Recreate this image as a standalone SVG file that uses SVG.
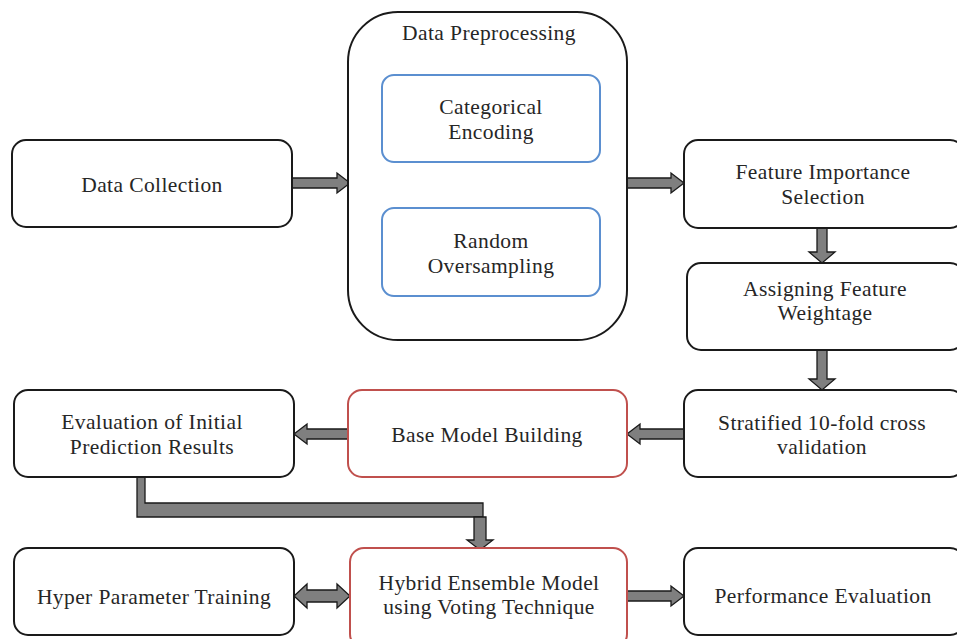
<svg xmlns="http://www.w3.org/2000/svg" width="957" height="639" viewBox="0 0 957 639">
<style>
.box{fill:#fff;stroke:#1a1a1a;stroke-width:2}
.blue{fill:#fff;stroke:#5b8fd0;stroke-width:2}
.red{fill:#fff;stroke:#c0504d;stroke-width:2}
.arr{fill:#7f7f7f;stroke:#1a1a1a;stroke-width:1.3;stroke-linejoin:miter}
text{font-family:"Liberation Serif","Times New Roman",serif;font-size:21.5px;letter-spacing:0.4px;fill:#262626;text-anchor:middle}
</style>
<rect width="957" height="639" fill="#fff"/>
<g id="connectors">
<polygon class="arr" points="292,178 337,178 337,173 350,183 337,193 337,188 292,188"/>
<polygon class="arr" points="627,178 671,178 671,173 684,183 671,193 671,188 627,188"/>
<polygon class="arr" points="817,228 827,228 827,252 835,252 822,263 809,252 817,252"/>
<polygon class="arr" points="817,350 827,350 827,379 835,379 822,390 809,379 817,379"/>
<polygon class="arr" points="684,429 640,429 640,424 627,434 640,444 640,439 684,439"/>
<polygon class="arr" points="348,429 307,429 307,424 294,434 307,444 307,439 348,439"/>
<polygon class="arr" points="137,477 145,477 145,503 483,503 483,517 145,517 137,517"/>
<polygon class="arr" points="474,517 486,517 486,540 493,540 480,550 467,540 474,540"/>
<polygon class="arr" points="307,590 337,590 337,584 350,596 337,608 337,602 307,602 307,608 294,596 307,584"/>
<polygon class="arr" points="627,591 671,591 671,586 684,596 671,606 671,601 627,601"/>
</g>
<g id="data-collection"><rect class="box" x="12" y="140" width="280" height="87" rx="14"/><text x="152" y="192">Data Collection</text></g>
<g id="data-preprocessing"><rect class="box" x="348" y="12" width="279" height="328" rx="50"/><text x="489" y="40">Data Preprocessing</text></g>
<g id="categorical-encoding"><rect class="blue" x="382" y="75" width="218" height="87" rx="12"/><text x="491" y="114">Categorical</text><text x="491" y="139">Encoding</text></g>
<g id="random-oversampling"><rect class="blue" x="382" y="208" width="218" height="88" rx="12"/><text x="491" y="248">Random</text><text x="491" y="273">Oversampling</text></g>
<g id="feature-importance"><rect class="box" x="684" y="140" width="280" height="88" rx="14"/><text x="823" y="179">Feature Importance</text><text x="823" y="204">Selection</text></g>
<g id="assigning-feature"><rect class="box" x="687" y="263" width="277" height="87" rx="14"/><text x="825" y="296">Assigning Feature</text><text x="825" y="320">Weightage</text></g>
<g id="stratified"><rect class="box" x="684" y="390" width="280" height="87" rx="14"/><text x="822" y="430">Stratified 10-fold cross</text><text x="822" y="454">validation</text></g>
<g id="base-model"><rect class="red" x="348" y="390" width="279" height="87" rx="14"/><text x="487" y="442">Base Model Building</text></g>
<g id="evaluation"><rect class="box" x="14" y="390" width="280" height="87" rx="14"/><text x="152" y="429">Evaluation of Initial</text><text x="152" y="454">Prediction Results</text></g>
<g id="hyper-parameter"><rect class="box" x="14" y="548" width="280" height="87" rx="14"/><text x="154" y="604">Hyper Parameter Training</text></g>
<g id="hybrid-ensemble"><rect class="red" x="350" y="548" width="277" height="100" rx="14"/><text x="489" y="590">Hybrid Ensemble Model</text><text x="489" y="614">using Voting Technique</text></g>
<g id="performance"><rect class="box" x="684" y="548" width="280" height="87" rx="14"/><text x="823" y="603">Performance Evaluation</text></g>
</svg>
